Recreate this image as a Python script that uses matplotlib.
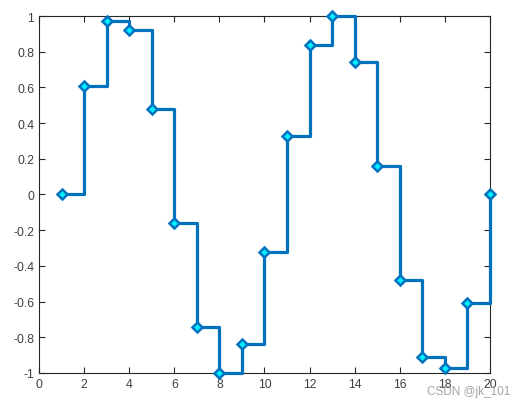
import matplotlib
matplotlib.use('Agg')
import matplotlib.pyplot as plt

# data (stairs plot, 20 samples)
x_vals = list(range(1, 21))
y_vals = [0.0, 0.61, 0.97, 0.92, 0.48, -0.16, -0.74, -1.0, -0.84, -0.32,
          0.33, 0.84, 1.0, 0.74, 0.16, -0.48, -0.91, -0.97, -0.61, 0.0]
x_ticks = list(range(0, 21, 2))
y_ticks = [-1, -0.8, -0.6, -0.4, -0.2, 0, 0.2, 0.4, 0.6, 0.8, 1]
y_labels = ['-1', '-0.8', '-0.6', '-0.4', '-0.2', '0', '0.2', '0.4', '0.6', '0.8', '1']

plt.rcParams['font.family'] = ['Liberation Sans', 'DejaVu Sans']
plt.rcParams['axes.unicode_minus'] = False

fig = plt.figure(figsize=(5.22, 4.06), dpi=100)
ax = fig.add_axes([0.0747, 0.079, 0.864, 0.879])

ax.plot(x_vals, y_vals, drawstyle='steps-post', color='#0072BD', linewidth=2.3,
        marker='D', markersize=5.5, markerfacecolor='#00F0FF',
        markeredgecolor='#0072BD', markeredgewidth=1.8, clip_on=False, zorder=3)

ax.set_xlim(0, 20)
ax.set_ylim(-1, 1)
ax.set_xticks(x_ticks)
ax.set_yticks(y_ticks)
ax.set_yticklabels(y_labels)

# matlab style box with inward ticks
for sp in ax.spines.values():
    sp.set_color('#262626')
    sp.set_linewidth(0.8)
ax.tick_params(direction='in', top=True, right=True, length=4, width=0.8,
               colors='#262626', labelsize=8.8, labelcolor='#404040')

fig.text(0.818, 0.027, 'CSDN @jk_101', color='#9a9a9a', fontsize=8.5, alpha=0.9)

fig.savefig('out.png', dpi=100)
